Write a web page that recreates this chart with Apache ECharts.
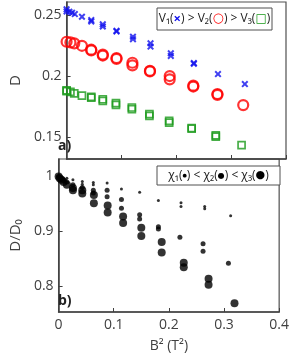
<!DOCTYPE html>
<html><head><meta charset="utf-8">
<script src="https://cdn.jsdelivr.net/npm/echarts@6/dist/echarts.min.js"></script>
<style>html,body{margin:0;padding:0;background:#fff}#c{width:292px;height:354px}</style>
</head><body><div id="c"></div>
<script>
// ---- Panel a) : D vs B^2 ----
var blueX = [0,0,0.005,0.01,0.015,0.028,0.045,0.045,0.066,0.066,0.091,0.091,0.121,0.121,0.153,0.153,0.19,0.19,0.232,0.232,0.276,0.325];
var blueY = [0.2547,0.2530,0.2527,0.2519,0.2508,0.2486,0.2459,0.2447,0.2424,0.2406,0.2371,0.2366,0.2322,0.2302,0.2268,0.2242,0.2186,0.2165,0.2106,0.2101,0.2016,0.1934];
var redX = [0,0.007,0.014,0.028,0.045,0.045,0.066,0.066,0.091,0.091,0.12,0.12,0.152,0.152,0.188,0.188,0.231,0.231,0.275,0.275,0.322];
var redY = [0.2281,0.2276,0.2268,0.2248,0.2216,0.2210,0.2176,0.2168,0.2148,0.2140,0.2109,0.2088,0.2043,0.2038,0.2000,0.1973,0.1921,0.1914,0.1853,0.1846,0.1762];
var greenX = [0,0,0.007,0.014,0.028,0.045,0.045,0.066,0.066,0.09,0.09,0.119,0.119,0.151,0.151,0.187,0.187,0.228,0.228,0.272,0.272,0.319];
var greenY = [0.1882,0.1876,0.1871,0.1858,0.1839,0.1830,0.1822,0.1810,0.1797,0.1778,0.1764,0.1742,0.1729,0.1688,0.1673,0.1632,0.1618,0.1574,0.1568,0.1514,0.1503,0.1434];
// ---- Panel b) : D/D0 vs B^2 ----
var chi1X = [0,0.004,0.009,0.015,0.026,0.043,0.043,0.063,0.063,0.088,0.114,0.147,0.181,0.222,0.222,0.265,0.265,0.312];
var chi1Y = [1.0,0.998,0.997,0.997,0.994,0.991,0.986,0.989,0.985,0.988,0.977,0.971,0.956,0.952,0.945,0.945,0.941,0.928];
var chi2X = [0,0.004,0.009,0.015,0.026,0.043,0.063,0.063,0.088,0.088,0.114,0.114,0.147,0.147,0.181,0.181,0.22,0.262,0.262,0.308];
var chi2Y = [1.0,0.996,0.993,0.99,0.985,0.98,0.975,0.970,0.975,0.963,0.958,0.942,0.930,0.922,0.908,0.904,0.889,0.877,0.863,0.841];
var chi3X = [0,0.002,0.005,0.009,0.015,0.026,0.026,0.043,0.043,0.064,0.064,0.089,0.089,0.117,0.117,0.15,0.15,0.187,0.187,0.227,0.227,0.272,0.272,0.319];
var chi3Y = [1.0,0.997,0.994,0.99,0.985,0.979,0.975,0.975,0.969,0.966,0.951,0.947,0.934,0.927,0.915,0.906,0.891,0.880,0.861,0.842,0.834,0.813,0.802,0.768];
var xTicks = [0,0.1,0.2,0.3,0.4];
var yTicksA = [0.15,0.2,0.25];
var yTicksB = [0.8,0.9,1];

function pairs(xs, ys){ return xs.map(function(x,i){ return [x, ys[i]]; }); }

var FONT = "'Open Sans','DejaVu Sans',sans-serif";
var AX = '#404040';
var crossPath = 'path://M0,2 L2,0 L5,3 L8,0 L10,2 L7,5 L10,8 L8,10 L5,7 L2,10 L0,8 L3,5 Z';

function xAxisCfg(idx, showLabel){
  return {
    type:'value', gridIndex: idx, min:0, max:0.4, interval:0.1,
    axisLine:{show:true, lineStyle:{color:AX, width:1.5}},
    axisTick:{show:true, inside:true, length:4, customValues:xTicks, lineStyle:{color:AX}},
    axisLabel:{show:showLabel, customValues:xTicks, color:'#404040', fontSize:14, fontFamily:FONT, margin:6,
      formatter:function(v){ return String(Math.round(v*10)/10); }},
    splitLine:{show:false},
    name: showLabel ? 'B² (T²)' : '', nameLocation:'middle', nameGap:27,
    nameTextStyle:{color:'#404040', fontSize:14, fontFamily:FONT}
  };
}
function yAxisCfg(idx, mn, mx, ticks, name, gap){
  return {
    type:'value', gridIndex: idx, min:mn, max:mx,
    axisLine:{show:true, lineStyle:{color:AX, width:1.5}},
    axisTick:{show:true, inside:true, length:4, customValues:ticks, lineStyle:{color:AX}},
    axisLabel:{show:true, customValues:ticks, color:'#404040', fontSize:14, fontFamily:FONT, margin:5,
      formatter:function(v){ return String(Math.round(v*100)/100); }},
    splitLine:{show:false},
    name:name, nameLocation:'middle', nameRotate:90, nameGap:gap,
    nameTextStyle:{color:'#404040', fontSize:15, fontFamily:FONT}
  };
}

var option = {
  animation:false,
  backgroundColor:'#fff',
  grid:[
    {left:54, top:2, width:232, height:157, show:true, borderColor:'#505050', borderWidth:1.2, backgroundColor:'transparent'},
    {left:54, top:159, width:232, height:154, show:true, borderColor:'#505050', borderWidth:1.2, backgroundColor:'transparent'}
  ],
  xAxis:[ xAxisCfg(0,false), xAxisCfg(1,true) ],
  yAxis:[ yAxisCfg(0, 0.132, 0.2607, yTicksA, 'D', 40), yAxisCfg(1, 0.752, 1.032, yTicksB, 'D/D₀', 34) ],
  series:[
    {type:'scatter', xAxisIndex:0, yAxisIndex:0, data:pairs(greenX, greenY), symbol:'rect', symbolSize:7,
      itemStyle:{color:'rgba(0,0,0,0)', borderColor:'#1a9a1a', borderWidth:1.7}},
    {type:'scatter', xAxisIndex:0, yAxisIndex:0, data:pairs(redX, redY), symbol:'circle', symbolSize:10,
      itemStyle:{color:'rgba(0,0,0,0)', borderColor:'#ff0000', borderWidth:2.2}},
    {type:'scatter', xAxisIndex:0, yAxisIndex:0, data:pairs(blueX, blueY), symbol:crossPath, symbolSize:7,
      itemStyle:{color:'#1010ee'}},
    {type:'scatter', xAxisIndex:1, yAxisIndex:1, data:pairs(chi3X, chi3Y), symbol:'circle', symbolSize:8,
      itemStyle:{color:'#000'}},
    {type:'scatter', xAxisIndex:1, yAxisIndex:1, data:pairs(chi2X, chi2Y), symbol:'circle', symbolSize:5,
      itemStyle:{color:'#000'}},
    {type:'scatter', xAxisIndex:1, yAxisIndex:1, data:pairs(chi1X, chi1Y), symbol:'circle', symbolSize:3,
      itemStyle:{color:'#000'}}
  ],
  graphic:[
    {type:'rect', shape:{x:157, y:8, width:115, height:22}, style:{fill:'#fff', stroke:'#505050', lineWidth:1}, z:10},
    {type:'text', x:214.5, y:19, z:11, style:{
      text:'{t|V₁(}{b|×}{t|) > V₂(}{r|○}{t|) > V₃(}{g|□}{t|)}',
      align:'center', verticalAlign:'middle',
      rich:{
        t:{fontSize:12, fontFamily:FONT, fill:'#222'},
        b:{fontSize:13, fontFamily:FONT, fill:'#1010ee', fontWeight:'bold'},
        r:{fontSize:13, fontFamily:"'DejaVu Sans',sans-serif", fill:'#ff0000', fontWeight:'bold'},
        g:{fontSize:12, fontFamily:"'DejaVu Sans',sans-serif", fill:'#1a9a1a', fontWeight:'bold'}
      }}},
    {type:'rect', shape:{x:157, y:166, width:123, height:19}, style:{fill:'#fff', stroke:'#505050', lineWidth:1}, z:10},
    {type:'text', x:218.5, y:175.5, z:11, style:{
      text:'{t|χ₁(}{s|●}{t|) < χ₂(}{m|●}{t|) < χ₃(}{l|●}{t|)}',
      align:'center', verticalAlign:'middle',
      rich:{
        t:{fontSize:12, fontFamily:FONT, fill:'#222'},
        s:{fontSize:5, fontFamily:"'DejaVu Sans',sans-serif", fill:'#000'},
        m:{fontSize:8, fontFamily:"'DejaVu Sans',sans-serif", fill:'#000'},
        l:{fontSize:11, fontFamily:"'DejaVu Sans',sans-serif", fill:'#000'}
      }}},
    {type:'text', x:58, y:139, z:11, style:{text:'a)', fontSize:14, fontWeight:'bold', fontFamily:FONT, fill:'#222'}},
    {type:'text', x:58, y:294, z:11, style:{text:'b)', fontSize:14, fontWeight:'bold', fontFamily:FONT, fill:'#222'}}
  ]
};
var chart = echarts.init(document.getElementById('c'), null, {renderer:'canvas'});
chart.setOption(option);
</script></body></html>
